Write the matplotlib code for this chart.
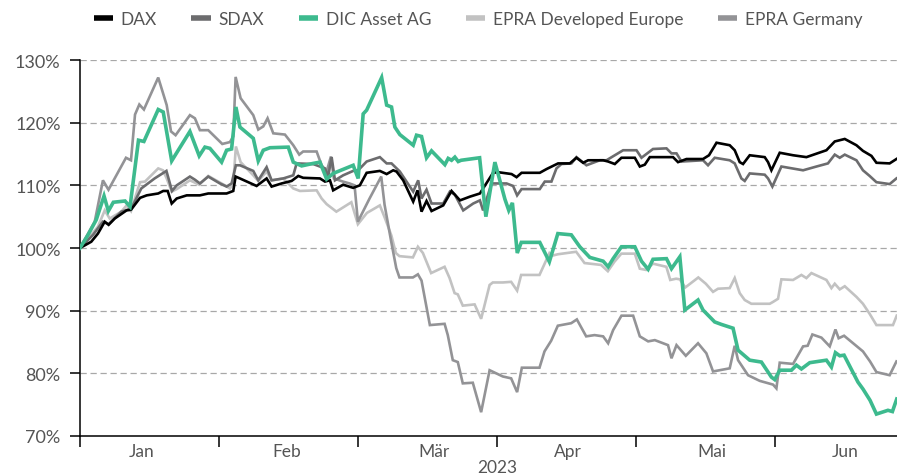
import matplotlib
matplotlib.use("Agg")
import matplotlib.pyplot as plt
import matplotlib.transforms as mtransforms

plt.rcParams['font.family'] = ['Lato', 'DejaVu Sans']

# x = position in months since 1 Jan 2023 (every month drawn with the same width)
months = ["Jan", "Feb", "Mär", "Apr", "Mai", "Jun"]
month_label_pos = [0.44, 1.49, 2.55, 3.51, 4.55, 5.51]
year = "2023"
names = ["DAX", "SDAX", "DIC Asset AG", "EPRA Developed Europe", "EPRA Germany"]

dax_t = [0, 0.081, 0.129, 0.178, 0.206, 0.25, 0.335, 0.367, 0.432, 0.48, 0.563, 0.599, 0.631, 0.66,
         0.696, 0.768, 0.863, 0.923, 1.055, 1.103, 1.12, 1.151, 1.271, 1.343, 1.379, 1.451, 1.523,
         1.571, 1.606, 1.727, 1.763, 1.799, 1.822, 1.894, 1.966, 2.014, 2.063, 2.158, 2.207, 2.254,
         2.278, 2.326, 2.398, 2.429, 2.458, 2.494, 2.53, 2.614, 2.674, 2.735, 2.807, 2.878, 2.973,
         3.009, 3.106, 3.142, 3.178, 3.309, 3.358, 3.441, 3.525, 3.573, 3.621, 3.657, 3.765, 3.801,
         3.849, 3.897, 3.993, 4.029, 4.065, 4.101, 4.268, 4.304, 4.365, 4.484, 4.527, 4.581, 4.676,
         4.712, 4.748, 4.772, 4.82, 4.928, 4.952, 4.976, 5.036, 5.132, 5.228, 5.372, 5.432, 5.504,
         5.588, 5.635, 5.696, 5.732, 5.827, 5.876]
dax_v = [100, 101.0, 102.3, 104.2, 103.7, 104.7, 106.0, 106.1, 108.0, 108.4, 108.7, 109.1, 109.1, 107.1,
         107.9, 108.4, 108.4, 108.7, 108.7, 109.1, 111.4, 111.1, 109.9, 111.1, 109.8, 110.3, 110.7,
         111.5, 111.2, 111.1, 110.6, 110.8, 109.2, 110.1, 109.6, 110.0, 112.0, 112.3, 111.8, 112.4,
         112.2, 110.8, 107.4, 109.2, 105.8, 107.5, 105.9, 106.8, 109.1, 107.6, 108.2, 108.7, 112.0,
         112.1, 111.8, 111.3, 112.0, 112.0, 112.6, 113.5, 113.5, 114.4, 113.6, 114.0, 114.0, 113.8,
         113.4, 114.4, 114.4, 113.0, 113.3, 114.5, 114.5, 113.7, 114.2, 114.2, 114.8, 116.8, 116.4,
         115.6, 113.7, 113.4, 114.8, 114.5, 113.7, 112.4, 115.2, 114.8, 114.5, 115.6, 117.0, 117.4,
         116.4, 115.5, 114.7, 113.6, 113.5, 114.2]

sdax_t = [0, 0.094, 0.165, 0.206, 0.297, 0.369, 0.441, 0.537, 0.622, 0.662, 0.696, 0.791, 0.827,
          0.863, 0.923, 1.007, 1.055, 1.091, 1.122, 1.151, 1.247, 1.283, 1.343, 1.379, 1.463, 1.535,
          1.559, 1.678, 1.763, 1.786, 1.811, 1.835, 1.894, 1.966, 2.002, 2.063, 2.158, 2.207, 2.242,
          2.302, 2.398, 2.434, 2.458, 2.494, 2.53, 2.614, 2.662, 2.698, 2.758, 2.83, 2.878, 2.901,
          2.962, 3.07, 3.117, 3.146, 3.178, 3.309, 3.345, 3.393, 3.429, 3.465, 3.537, 3.573, 3.645,
          3.741, 3.789, 3.909, 4.005, 4.041, 4.124, 4.221, 4.257, 4.293, 4.329, 4.484, 4.52, 4.568,
          4.676, 4.712, 4.76, 4.784, 4.82, 4.928, 4.952, 4.983, 5.048, 5.204, 5.3, 5.383, 5.432,
          5.468, 5.504, 5.588, 5.635, 5.683, 5.732, 5.827, 5.876]
sdax_v = [100, 102.1, 104.2, 103.8, 105.8, 106.3, 109.5, 111.1, 112.3, 109.1, 110.0, 111.4, 110.9,
          110.3, 111.4, 110.3, 109.8, 110.3, 113.2, 113.2, 112.3, 110.8, 112.9, 110.8, 111.1, 111.6,
          113.5, 113.4, 112.7, 111.4, 114.5, 110.8, 111.6, 112.3, 112.4, 113.8, 114.5, 113.5, 113.5,
          112.2, 109.0, 110.8, 107.9, 109.3, 107.1, 107.1, 109.0, 108.5, 106.0, 107.1, 107.6, 106.0,
          110.3, 110.3, 109.9, 108.4, 109.4, 109.4, 110.6, 110.6, 112.7, 113.4, 113.5, 114.5, 113.2,
          114.0, 114.0, 115.6, 115.6, 114.4, 115.8, 115.9, 115.1, 115.1, 113.8, 114.0, 113.2, 114.4,
          114.0, 113.5, 111.1, 110.7, 111.9, 111.7, 111.1, 109.8, 113.0, 112.4, 113.0, 113.5, 114.9,
          114.4, 114.9, 114.0, 112.4, 111.5, 110.5, 110.2, 111.1]

dic_t = [0, 0.058, 0.117, 0.173, 0.204, 0.24, 0.324, 0.36, 0.421, 0.46, 0.563, 0.599, 0.66, 0.696,
         0.791, 0.858, 0.899, 0.935, 1.019, 1.055, 1.091, 1.122, 1.151, 1.247, 1.283, 1.319, 1.367,
         1.499, 1.535, 1.595, 1.678, 1.727, 1.775, 1.822, 1.966, 2.002, 2.038, 2.063, 2.171, 2.207,
         2.242, 2.266, 2.302, 2.398, 2.422, 2.458, 2.494, 2.53, 2.626, 2.65, 2.674, 2.698, 2.722,
         2.743, 2.876, 2.921, 2.986, 3.058, 3.086, 3.112, 3.147, 3.176, 3.309, 3.378, 3.439, 3.536,
         3.597, 3.669, 3.765, 3.801, 3.837, 3.897, 3.993, 4.041, 4.089, 4.124, 4.221, 4.257, 4.317,
         4.353, 4.448, 4.484, 4.568, 4.617, 4.7, 4.736, 4.82, 4.904, 4.976, 5.0, 5.036, 5.12, 5.156,
         5.192, 5.252, 5.372, 5.408, 5.437, 5.468, 5.499, 5.599, 5.635, 5.686, 5.732, 5.815, 5.847,
         5.878]
dic_v = [100, 102.1, 104.5, 108.3, 105.9, 107.3, 107.5, 106.6, 117.2, 117.0, 122.1, 121.7, 113.9, 115.2,
         118.6, 114.7, 116.1, 115.9, 113.7, 115.6, 115.8, 122.5, 119.3, 117.5, 113.9, 115.6, 116.0,
         116.1, 113.7, 113.1, 113.5, 113.7, 111.0, 111.9, 113.2, 111.1, 121.4, 122.0, 127.2, 122.8,
         122.5, 119.3, 118.1, 116.4, 118.0, 117.8, 114.4, 115.5, 113.3, 114.3, 114.0, 114.5, 113.8,
         114.0, 114.4, 105.0, 113.7, 107.8, 106.0, 107.2, 99.2, 100.9, 100.9, 97.8, 102.3, 102.1,
         100.2, 98.5, 97.9, 97.0, 98.3, 100.2, 100.2, 97.9, 96.6, 98.2, 98.3, 96.7, 98.6,
         90.1, 91.7, 90.1, 88.2, 87.8, 87.2, 83.7, 82.1, 81.8, 79.4, 79.0, 80.5, 80.5, 81.3,
         80.7, 81.7, 82.1, 81.0, 83.3, 82.8, 82.9, 78.6, 77.5, 75.7, 73.5, 74.1, 73.9,
         75.9]

epra_eu_t = [0, 0.081, 0.129, 0.178, 0.214, 0.297, 0.336, 0.367, 0.432, 0.468, 0.563, 0.597, 0.624,
             0.66, 0.696, 0.791, 0.858, 0.923, 1.043, 1.079, 1.103, 1.122, 1.156, 1.247, 1.283, 1.343,
             1.379, 1.463, 1.535, 1.583, 1.703, 1.739, 1.775, 1.845, 1.953, 2.0, 2.065, 2.158, 2.194,
             2.241, 2.273, 2.299, 2.396, 2.432, 2.468, 2.527, 2.624, 2.66, 2.696, 2.719, 2.755, 2.84,
             2.887, 2.948, 2.971, 3.043, 3.103, 3.146, 3.175, 3.307, 3.379, 3.403, 3.439, 3.571, 3.631,
             3.75, 3.799, 3.846, 3.896, 3.993, 4.029, 4.074, 4.124, 4.22, 4.248, 4.29, 4.317, 4.356,
             4.45, 4.504, 4.556, 4.592, 4.676, 4.712, 4.748, 4.784, 4.832, 4.964, 4.988, 5.024, 5.048,
             5.132, 5.192, 5.228, 5.264, 5.372, 5.408, 5.432, 5.468, 5.504, 5.588, 5.635, 5.683, 5.732,
             5.851, 5.878]
epra_eu_v = [100, 102.1, 103.4, 106.0, 104.7, 105.8, 106.8, 105.9, 110.5, 110.6, 112.7, 112.4, 111.1,
             109.0, 109.4, 110.8, 110.1, 111.5, 110.0, 109.5, 110.3, 116.2, 113.7, 111.6, 110.7, 112.2,
             110.8, 111.1, 109.5, 109.1, 109.2, 107.9, 107.0, 105.8, 107.3, 103.8, 105.6, 106.8, 104.8,
             102.0, 99.2, 98.7, 98.5, 100.2, 99.2, 96.0, 97.0, 95.2, 92.8, 92.6, 90.8, 91.0,
             88.7, 94.1, 94.5, 94.5, 94.6, 93.2, 95.7, 95.7, 99.2, 98.8, 99.0, 99.4, 97.6,
             97.3, 96.3, 97.8, 99.1, 99.1, 96.7, 96.5, 97.5, 97.0, 94.9, 95.1, 95.0, 93.7,
             95.3, 94.3, 93.0, 93.5, 93.6, 95.2, 92.8, 91.7, 91.1, 91.1, 91.4, 91.9, 95.0,
             94.9, 95.7, 95.2, 96.0, 94.9, 93.6, 94.3, 93.4, 93.9, 92.2, 91.1, 89.5, 87.7,
             87.7, 89.2]

epra_de_t = [0, 0.106, 0.165, 0.205, 0.331, 0.367, 0.396, 0.427, 0.46, 0.563, 0.624, 0.655, 0.688,
             0.791, 0.827, 0.863, 0.923, 1.024, 1.079, 1.103, 1.12, 1.156, 1.247, 1.283, 1.319, 1.35,
             1.391, 1.475, 1.535, 1.578, 1.606, 1.703, 1.739, 1.775, 1.806, 1.827, 1.892, 1.94, 1.976,
             2.0, 2.084, 2.168, 2.192, 2.24, 2.276, 2.299, 2.396, 2.432, 2.458, 2.518, 2.624, 2.647,
             2.683, 2.719, 2.755, 2.827, 2.887, 2.948, 3.043, 3.103, 3.146, 3.18, 3.307, 3.343, 3.391,
             3.439, 3.535, 3.576, 3.643, 3.703, 3.765, 3.801, 3.837, 3.897, 3.981, 4.029, 4.089, 4.137,
             4.232, 4.257, 4.293, 4.36, 4.448, 4.508, 4.556, 4.676, 4.712, 4.736, 4.808, 4.892, 4.988,
             5.012, 5.036, 5.132, 5.204, 5.237, 5.271, 5.336, 5.396, 5.437, 5.46, 5.499, 5.635, 5.686,
             5.732, 5.827, 5.876]
epra_de_v = [100, 104.2, 110.8, 109.3, 114.4, 114.0, 121.3, 122.9, 122.1, 127.2, 122.8, 118.6, 118.0,
             121.2, 120.7, 118.8, 118.8, 116.6, 116.9, 117.8, 127.3, 123.9, 121.2, 118.9, 119.4, 120.7,
             118.3, 118.1, 116.4, 114.9, 115.4, 115.4, 113.2, 112.2, 114.6, 111.1, 110.6, 110.3, 110.0,
             104.2, 107.9, 111.4, 106.9, 101.0, 96.8, 95.3, 95.3, 95.8, 94.8, 87.7, 87.9, 86.1,
             82.1, 81.8, 78.4, 78.5, 73.8, 80.5, 79.5, 79.2, 77.0, 80.9, 80.9, 83.5, 85.2,
             87.6, 88.0, 88.6, 85.9, 86.1, 85.9, 84.8, 86.9, 89.2, 89.2, 85.9, 85.1, 85.3,
             84.5, 82.4, 84.5, 82.8, 84.8, 83.2, 80.3, 80.8, 84.4, 82.1, 79.7, 78.8, 78.2,
             77.6, 81.7, 81.5, 84.3, 84.4, 86.2, 85.7, 84.3, 87.0, 85.6, 86.0, 83.5, 81.9,
             80.2, 79.7, 81.9]

series = [
    (dax_t, dax_v, "#000000", 1.9, 5),
    (sdax_t, sdax_v, "#6c6c6e", 1.9, 4),
    (dic_t, dic_v, "#3dba8e", 2.6, 6),
    (epra_eu_t, epra_eu_v, "#c2c2c2", 1.9, 2),
    (epra_de_t, epra_de_v, "#939396", 1.9, 3),
]

txt_col = '#555555'

fig = plt.figure(figsize=(8.97, 4.77), dpi=100)
ax = fig.add_axes([80 / 897, 40 / 477, 1 - 80 / 897, 376 / 477])

for (t, v, col, lw, z), name in zip(series, names):
    ax.plot(t, v, color=col, lw=lw, zorder=z, label=name, solid_joinstyle='miter')

ax.set_xlim(0, 5.88)
ax.set_ylim(70, 130)

yt = list(range(70, 131, 10))
ax.set_yticks(yt)
ax.set_yticklabels([f"{y}%" for y in yt])
for y in yt[1:]:
    ax.axhline(y, color="#a8a8a8", lw=0.9, ls=(0, (5, 3)), zorder=1)

ax.set_xticks(range(6))
ax.set_xticklabels([])
ax.set_xticks(month_label_pos, minor=True)
ax.set_xticklabels(months, minor=True)

ax.tick_params(axis='x', which='major', length=8, width=1.1, color='black')
ax.tick_params(axis='x', which='minor', length=0, pad=5, labelsize=12.5, labelcolor=txt_col)
ax.tick_params(axis='y', length=7, width=1.1, pad=7, labelsize=13, labelcolor=txt_col)

for s in ['top', 'right']:
    ax.spines[s].set_visible(False)
for s in ['left', 'bottom']:
    ax.spines[s].set_linewidth(1.1)

trans = mtransforms.blended_transform_factory(ax.transData, fig.transFigure)
ax.text(3.0, 9 / 477, year, transform=trans, ha='center', va='center',
        fontsize=12.5, color=txt_col)

leg = fig.legend(loc='center', bbox_to_anchor=(478 / 897, 1 - 20 / 477), ncol=5, frameon=False,
                 fontsize=12.5, handlelength=1.1, handletextpad=0.45, columnspacing=2.0,
                 labelcolor=txt_col)
for h in leg.get_lines():
    h.set_linewidth(4)
    h.set_solid_capstyle('butt')

fig.savefig("out.png", dpi=100)
